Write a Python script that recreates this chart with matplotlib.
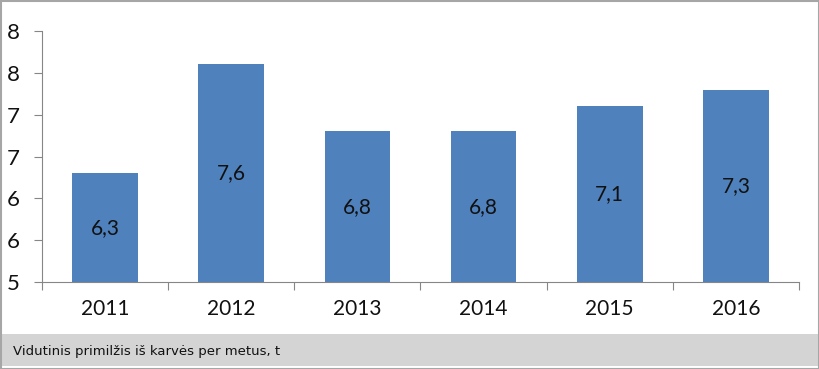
import matplotlib.pyplot as plt
from matplotlib.patches import Rectangle

metai = ['2011', '2012', '2013', '2014', '2015', '2016']
primilzis = [6.3, 7.6, 6.8, 6.8, 7.1, 7.3]
y_ticks = [5, 5.5, 6, 6.5, 7, 7.5, 8]
y_labels = ['5', '6', '6', '7', '7', '8', '8']
antraste = 'Vidutinis primilžis iš karvės per metus, t'

plt.rcParams['font.family'] = ['Lato', 'DejaVu Sans']

fig = plt.figure(figsize=(8.2, 3.69), dpi=100)
ax = fig.add_axes([42 / 820, 1 - 282 / 369, (799 - 42) / 820, (282 - 31) / 369])

x = list(range(len(metai)))
ax.bar(x, primilzis, width=0.52, color='#4F81BD', zorder=2)
for xi, v in zip(x, primilzis):
    ax.text(xi, (5 + v) / 2, f'{v:.1f}'.replace('.', ','), ha='center', va='center',
            fontsize=15, color='#111111')

ax.set_ylim(5, 8)
ax.set_xlim(-0.5, len(metai) - 0.5)
ax.set_yticks(y_ticks)
ax.set_yticklabels(y_labels, fontsize=16, color='#111111')

ax.set_xticks([i - 0.5 for i in range(len(metai) + 1)], minor=False)
ax.set_xticklabels([])
ax.set_xticks(x, minor=True)
ax.set_xticklabels(metai, minor=True, fontsize=15, color='#111111')
ax.tick_params(axis='x', which='major', length=6, color='#868686', direction='out')
ax.tick_params(axis='x', which='minor', length=0, pad=12)
ax.tick_params(axis='y', length=6, color='#868686', pad=10)

for s in ['top', 'right']:
    ax.spines[s].set_visible(False)
for s in ['left', 'bottom']:
    ax.spines[s].set_color('#868686')

# gray caption band
fig.patches.append(Rectangle((1 / 820, 3 / 369), 817 / 820, 32 / 369, transform=fig.transFigure,
                             facecolor='#D4D4D4', edgecolor='none', zorder=0))
fig.text(13 / 820, 1 - 351 / 369, antraste, fontsize=9.5, va='center', ha='left',
         family=['DejaVu Sans'], color='#111111')
# outer border
fig.patches.append(Rectangle((0.5 / 820, 0.5 / 369), 818.5 / 820, 367.5 / 369, transform=fig.transFigure,
                             facecolor='none', edgecolor='#A6A6A6', linewidth=1.5, zorder=5))

fig.savefig('out.png', dpi=100)
